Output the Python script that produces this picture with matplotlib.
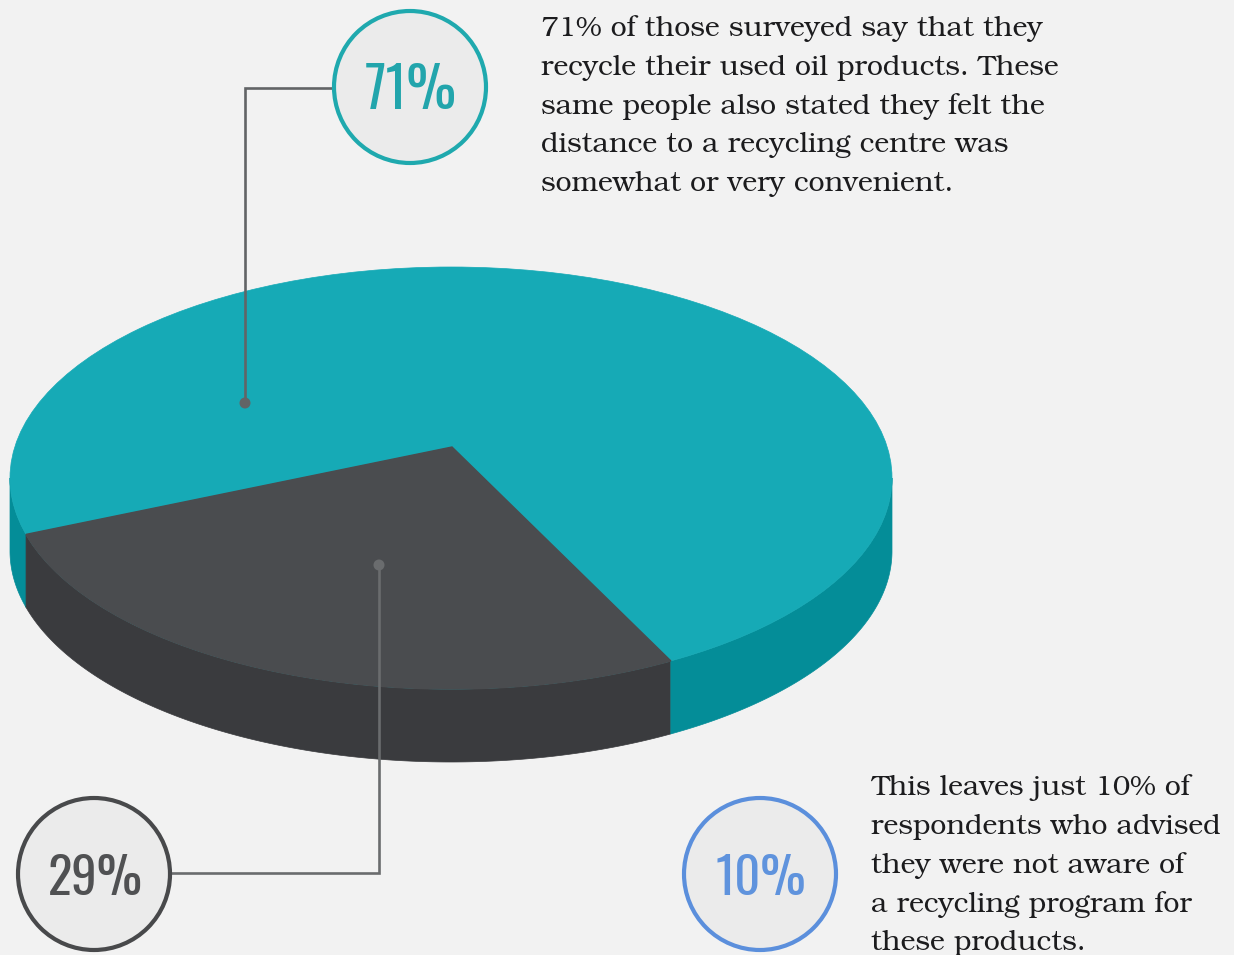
import matplotlib
matplotlib.use("Agg")
import matplotlib.pyplot as plt
import numpy as np
from matplotlib.patches import Circle, Ellipse, Polygon

segment_labels = ["Recycle", "Do not recycle"]
segment_shares = [71, 29]
callout_values = ["71%", "29%", "10%"]
note_top = ["71% of those surveyed say that they",
            "recycle their used oil products. These",
            "same people also stated they felt the",
            "distance to a recycling centre was",
            "somewhat or very convenient."]
note_bottom = ["This leaves just 10% of",
               "respondents who advised",
               "they were not aware of",
               "a recycling program for",
               "these products."]

BG = "#f2f2f2"
TEAL_TOP, TEAL_SIDE = "#16aab6", "#048d98"
DARK_TOP, DARK_SIDE = "#4a4c4f", "#3a3b3e"
TEXT = "#1c1c1e"
BODY_FONT = ["TeX Gyre Bonum", "DejaVu Serif"]
BADGE_FONT = ["Oswald", "Liberation Sans Narrow", "DejaVu Sans"]

fig = plt.figure(figsize=(12.34, 9.55), dpi=100, facecolor=BG)
ax = fig.add_axes([0, 0, 1, 1])
ax.set_xlim(0, 1234)
ax.set_ylim(955, 0)
ax.axis("off")

# Pie geometry on the canvas; the hub sits a little behind the rim's centre
cx, cy, rx, ry, depth = 451, 478, 441, 211, 73
tip = (452, 447)
start = 195.5
dark_end = start + segment_shares[1] * 3.6


def rim(a0, a1, dy=0, n=240):
    t = np.radians(np.linspace(a0, a1, n))
    return np.column_stack([cx + rx * np.cos(t), cy - ry * np.sin(t) + dy])


def band(a0, a1, color):
    ax.add_patch(Polygon(np.vstack([rim(a0, a1), rim(a1, a0, depth)]),
                         closed=True, fc=color, ec=color, lw=0.5, zorder=2))


# Side walls: teal shows on both flanks, dark sits in the front
band(180, start, TEAL_SIDE)
band(start, dark_end, DARK_SIDE)
band(dark_end, 360, TEAL_SIDE)

# Top faces
ax.add_patch(Ellipse((cx, cy), 2 * rx, 2 * ry, fc=TEAL_TOP, ec=TEAL_TOP, lw=0.5, zorder=3))
ax.add_patch(Polygon(np.vstack([[tip], rim(start, dark_end)]), closed=True,
                     fc=DARK_TOP, ec=DARK_TOP, lw=1.0, zorder=4))


def leader(points, color, lw=1.9):
    xs, ys = zip(*points)
    ax.plot(xs, ys, color=color, lw=lw, zorder=5, solid_joinstyle="miter")
    ax.add_patch(Circle(points[-1], 5.5, fc=color, ec="none", zorder=6))


leader([(335, 88), (245, 88), (245, 403)], "#626466")
leader([(170, 873), (379, 873), (379, 565)], "#6a6c6e")


def badge(x, y, ring, label, color, size, text_y):
    ax.add_patch(Circle((x, y), 76, fc="#ebebeb", ec=ring, lw=3.0, zorder=7))
    ax.text(x + 1, text_y, label, color=color, fontsize=size, ha="center", va="center",
            family=BADGE_FONT, zorder=8)


badge(410, 87, "#1fa9ae", callout_values[0], "#22a5ac", 40, 91)
badge(94, 874, "#48494b", callout_values[1], "#505153", 36.5, 879)
badge(760, 874, "#5b8fdc", callout_values[2], "#5f93dd", 36.5, 879)

for i, line in enumerate(note_top):
    ax.text(541, 29 + i * 38.8, line, color=TEXT, fontsize=20.4, va="center", family=BODY_FONT)
for i, line in enumerate(note_bottom):
    ax.text(871, 788 + i * 38.8, line, color=TEXT, fontsize=20.4, va="center", family=BODY_FONT)

fig.savefig("out.png", dpi=100, facecolor=BG)
